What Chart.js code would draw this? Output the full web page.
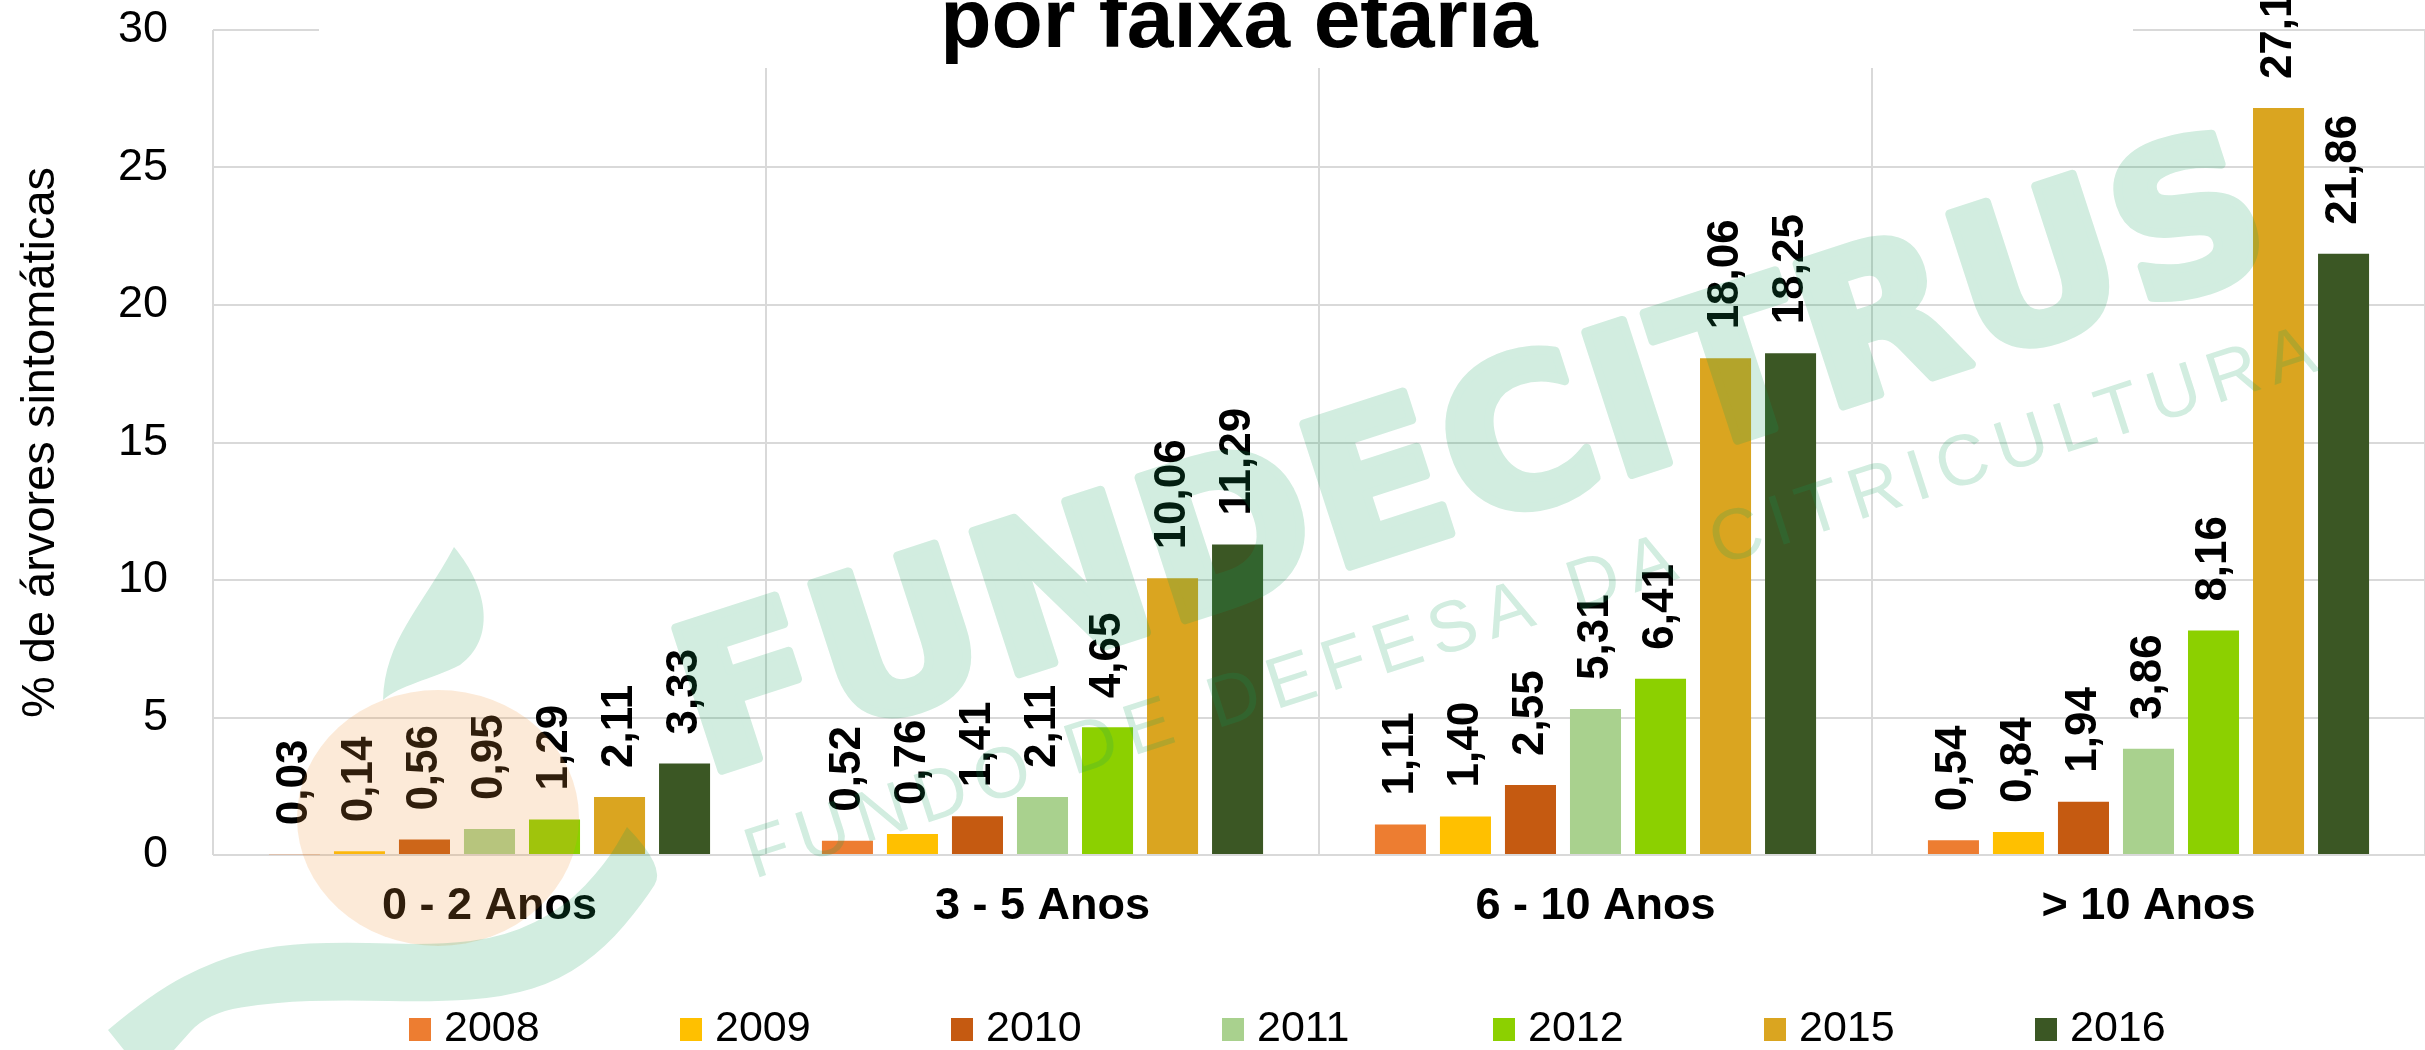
<!DOCTYPE html>
<html>
<head>
<meta charset="utf-8">
<script src="https://cdn.jsdelivr.net/npm/chart.js@4.4.0/dist/chart.umd.min.js"></script>
<style>
  html, body { margin: 0; padding: 0; background: #fff; overflow: hidden; }
  #wrap { width: 2425px; height: 1050px; }
</style>
</head>
<body>
<div id="wrap"><canvas id="faixaChart" width="2425" height="1050"></canvas></div>
<script>
// Chart data
const chartTitle = "por faixa etária";
const yTitle = "% de árvores sintomáticas";
const categories = ["0 - 2 Anos", "3 - 5 Anos", "6 - 10 Anos", "> 10 Anos"];
const years = ["2008", "2009", "2010", "2011", "2012", "2015", "2016"];
const v2008 = [0.03, 0.52, 1.11, 0.54];
const v2009 = [0.14, 0.76, 1.40, 0.84];
const v2010 = [0.56, 1.41, 2.55, 1.94];
const v2011 = [0.95, 2.11, 5.31, 3.86];
const v2012 = [1.29, 4.65, 6.41, 8.16];
const v2015 = [2.11, 10.06, 18.06, 27.16];
const v2016 = [3.33, 11.29, 18.25, 21.86];
const yTicks = [0, 5, 10, 15, 20, 25, 30];

const seriesValues = [v2008, v2009, v2010, v2011, v2012, v2015, v2016];
const yearColors = ["#ED7D31", "#FFC000", "#C55A11", "#A9D18E", "#8CD000", "#DAA520", "#3B5724"];

const FONT = '"Liberation Sans", Arial, sans-serif';

function fmt(v) {
  return v.toFixed(2).replace(".", ",");
}

// smooth path through points (quadratic through midpoints)
function smoothPath(ctx, pts, start) {
  if (start) ctx.moveTo(pts[0][0], pts[0][1]);
  else ctx.lineTo(pts[0][0], pts[0][1]);
  for (let i = 1; i < pts.length - 1; i++) {
    const mx = (pts[i][0] + pts[i + 1][0]) / 2;
    const my = (pts[i][1] + pts[i + 1][1]) / 2;
    ctx.quadraticCurveTo(pts[i][0], pts[i][1], mx, my);
  }
  const last = pts[pts.length - 1];
  ctx.lineTo(last[0], last[1]);
}

// watermark layer, drawn opaque then blended once
function drawWatermark(w, h) {
  const off = document.createElement("canvas");
  off.width = w;
  off.height = h;
  const c = off.getContext("2d");
  c.fillStyle = "#10a05a";
  c.strokeStyle = "#10a05a";
  c.lineJoin = "round";

  // leaf
  c.beginPath();
  c.moveTo(383, 700);
  c.bezierCurveTo(385, 640, 420, 610, 454, 547);
  c.bezierCurveTo(490, 590, 495, 640, 460, 665);
  c.bezierCurveTo(430, 680, 400, 685, 383, 700);
  c.fill();

  // swoosh
  c.beginPath();
  c.moveTo(124, 1050);
  smoothPath(c, [[108, 1030], [152, 993], [216, 960], [275, 945], [344, 942], [436, 945], [505, 937], [565, 907], [606, 863], [627, 827]], false);
  smoothPath(c, [[627, 827], [666, 867], [643, 903], [606, 947], [560, 980], [505, 997], [436, 1002], [344, 1000], [275, 1002], [207, 1013], [174, 1050]], false);
  c.closePath();
  c.fill();

  c.textAlign = "left";
  c.textBaseline = "alphabetic";
  c.save();
  c.translate(704, 776);
  c.rotate(-18 * Math.PI / 180);
  c.font = 'bold 205px "DejaVu Sans"';
  c.letterSpacing = "3px";
  c.lineWidth = 9;
  c.fillText("FUNDECITRUS", 0, 0);
  c.strokeText("FUNDECITRUS", 0, 0);
  c.restore();

  c.save();
  c.translate(754, 879);
  c.rotate(-18 * Math.PI / 180);
  c.font = "72px " + FONT;
  c.letterSpacing = "10px";
  c.fillText("FUNDO DE DEFESA DA CITRICULTURA", 0, 0);
  c.restore();
  return off;
}

const decorPlugin = {
  id: "decor",
  beforeDatasetsDraw(chart) {
    const ctx = chart.ctx;
    ctx.save();
    // the title box hides the top of the grid
    ctx.fillStyle = "#fff";
    ctx.fillRect(319, 0, 2133 - 319, 68);
    ctx.fillStyle = "#000";
    ctx.font = "bold 84px " + FONT;
    ctx.textAlign = "center";
    ctx.textBaseline = "alphabetic";
    ctx.fillText(chartTitle, 1239, 47);
    ctx.restore();
  },
  afterDatasetsDraw(chart) {
    const ctx = chart.ctx;
    ctx.save();
    ctx.fillStyle = "#000";
    ctx.font = "bold 44px " + FONT;
    ctx.textAlign = "left";
    ctx.textBaseline = "middle";
    chart.data.datasets.forEach((ds, i) => {
      chart.getDatasetMeta(i).data.forEach((bar, j) => {
        ctx.save();
        ctx.translate(bar.x, bar.y - 29);
        ctx.rotate(-Math.PI / 2);
        ctx.fillText(fmt(ds.data[j]), 0, 0);
        ctx.restore();
      });
    });
    ctx.restore();
  },
  afterDraw(chart) {
    const ctx = chart.ctx;
    ctx.save();
    // legend
    ctx.font = "43px " + FONT;
    ctx.textAlign = "left";
    ctx.textBaseline = "middle";
    chart.data.datasets.forEach((ds, i) => {
      const x = 409 + i * 271;
      ctx.fillStyle = ds.backgroundColor;
      ctx.fillRect(x, 1018, 22, 23);
      ctx.fillStyle = "#000";
      ctx.fillText(ds.label, x + 35, 1029);
    });

    // orange ball of the logo
    ctx.fillStyle = "rgba(240,150,60,0.2)";
    ctx.beginPath();
    ctx.ellipse(438, 818, 141, 128, 0, 0, Math.PI * 2);
    ctx.fill();

    ctx.globalAlpha = 0.19;
    ctx.drawImage(drawWatermark(chart.width, chart.height), 0, 0);
    ctx.restore();
  }
};

const ctx = document.getElementById("faixaChart").getContext("2d");
new Chart(ctx, {
  type: "bar",
  data: {
    labels: categories,
    datasets: years.map((y, i) => ({
      label: y,
      data: seriesValues[i],
      backgroundColor: yearColors[i],
      borderWidth: 0,
      barPercentage: 0.785,
      categoryPercentage: 0.823
    }))
  },
  options: {
    responsive: false,
    animation: false,
    devicePixelRatio: 1,
    layout: { padding: { top: 30, left: 0, right: 0, bottom: 0 } },
    plugins: {
      legend: { display: false },
      tooltip: { enabled: false }
    },
    scales: {
      x: {
        grid: { offset: true, color: "#d9d9d9", lineWidth: 2, drawTicks: false },
        border: { display: false },
        ticks: { color: "#000", font: { family: FONT, size: 45, weight: "bold" }, padding: 25 },
        afterFit: (s) => { s.height = 195; }
      },
      y: {
        min: 0,
        max: 30,
        afterBuildTicks: (s) => { s.ticks = yTicks.map(v => ({ value: v })); },
        grid: { color: "#d9d9d9", lineWidth: 2, drawTicks: false },
        border: { display: false },
        ticks: { color: "#000", font: { family: FONT, size: 45 }, padding: 45 },
        title: {
          display: true,
          text: yTitle,
          color: "#000",
          font: { family: FONT, size: 47 },
          padding: { top: 13, bottom: 0 }
        },
        afterFit: (s) => {
          s.width = 213;
          s.paddingTop = 0;
          s.paddingBottom = 0;
        }
      }
    }
  },
  plugins: [decorPlugin]
});
</script>
</body>
</html>
